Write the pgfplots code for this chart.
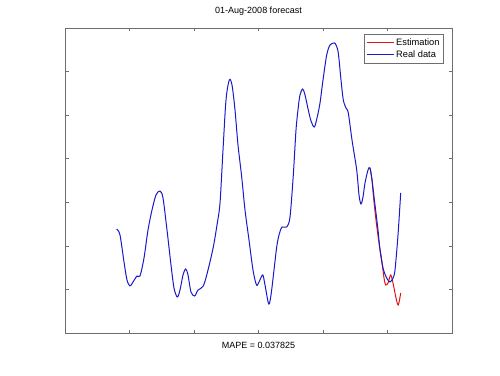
\documentclass[border=0pt]{standalone}
\usepackage{pgfplots}
\pgfplotsset{compat=1.18}
\usepackage{fontspec}
\setmainfont{Liberation Sans}
\definecolor{mblue}{RGB}{25,25,200}
\definecolor{mred}{RGB}{225,20,20}
\definecolor{axgray}{RGB}{110,110,110}
\begin{document}
\begin{tikzpicture}[x=1pt,y=1pt]
\useasboundingbox (0,0) rectangle (500,375);
\begin{axis}[
  at={(65,42)}, anchor=south west,
  width=387pt, height=305pt, scale only axis,
  xmin=65, xmax=452, ymin=0, ymax=305,
  xtick={129.5,194,258.5,323,387.5},
  ytick={43.6,87.1,130.7,174.3,217.9,261.4},
  xticklabels={}, yticklabels={},
  tick align=inside, major tick length=3.5pt,
  tick style={axgray, line width=0.6pt},
  axis line style={axgray, line width=0.7pt},
  font=\fontsize{9}{11}\selectfont,
  title={01-Aug-2008 forecast},
  title style={at={(0.5,1)}, anchor=base, yshift=8pt, inner sep=0pt},
  xlabel={MAPE = 0.037825},
  xlabel style={at={(0.5,0)}, anchor=base, yshift=-15pt, inner sep=0pt},
  legend style={at={(0.979,0.980)}, anchor=north east, draw=axgray, line width=0.6pt,
    font=\fontsize{9.3}{10}\selectfont, inner sep=2pt, row sep=0pt,
    cells={anchor=west}},
  legend image code/.code={\draw[#1, line width=0.8pt] (0pt,0pt) -- (27pt,0pt);},
]
\addplot[mred, line width=1pt, smooth, tension=0.5] coordinates {
(370,165)(372,153)(373.3,138)(376,113)(379,90)(381.7,73)(384,55)(385.7,48)(388,50)(390.7,58)(393,50)(396,35)(398.3,28)(400.7,40)
};
\addlegendentry{Estimation}
\addplot[mblue, line width=1pt, smooth, tension=0.5] coordinates {
(116.7,104)(120,98)(124,71)(127,53)(130,47)(133,51)(137,57)(140,57)(144,75)(148,103)(152,123)(156,138)(160,142)(163,135)(167,103)(171,68)(174,45)(177.3,36)(180,43)(183,58)(185.7,64)(188,58)(191,41)(194.7,37)(198,43)(203.3,47)(208,63)(213.3,86)(217,108)(220,130)(223,183)(226,233)(229.3,253)(232,248)(235,223)(238,188)(241.7,156)(245,123)(249,93)(253,63)(256.5,48)(259,51)(262.7,58)(265,48)(268.7,29)(271,38)(274,63)(276.7,86)(279,98)(282,106)(286.7,106)(290,116)(293.3,158)(296,203)(298.3,226)(300,238)(302.7,244)(305,238)(308.3,223)(311,212)(314.3,206)(317,215)(320,230)(323,253)(326.7,278)(330,288)(334.3,290)(336,288)(338.3,280)(341,253)(343.3,233)(346,225)(348.3,220)(352,193)(356.7,163)(359,138)(361,129)(363,136)(365,150)(368,163)(370,165)(372,153)(375,128)(378,103)(380,83)(383,65)(386.7,55)(390,51)(393,55)(395,63)(398,98)(400.7,140)
};
\addlegendentry{Real data}
\end{axis}
\end{tikzpicture}
\end{document}
